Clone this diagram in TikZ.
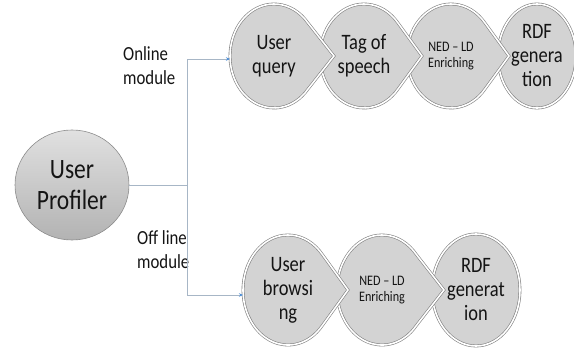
\documentclass[tikz,border=0pt]{standalone}
\usepackage{fontspec}
\setmainfont{Carlito}[FakeStretch=0.84]
\usetikzlibrary{arrows.meta,calc,shapes.geometric}
\definecolor{ballfill}{HTML}{D3D3D3}
\definecolor{balledge}{HTML}{7F7F7F}
\definecolor{connline}{HTML}{A7B6C6}
\definecolor{arrowblue}{HTML}{4F8FD6}
\definecolor{txt}{HTML}{141414}
\newcommand\chevball[4]{%
  \path[ball] (#1) ++(40:#2 and #3) arc[start angle=40,end angle=320,x radius=#2,y radius=#3] -- ($(#1)+(#4,0)$) -- cycle;}
\begin{document}
\begin{tikzpicture}[x=1pt,y=1pt,
  ball/.style={fill=ballfill,draw=balledge,double=white,double distance=1.6pt,line width=0.6pt},
  balltext/.style={inner sep=0pt,outer sep=0pt,align=center,text=txt,font=\fontsize{22}{24}\selectfont},
  smalltext/.style={font=\fontsize{14.5}{16}\selectfont},
  conn/.style={draw=connline,line width=0.8pt},
  tipa/.style={-{Stealth[length=4pt,width=3.5pt,color=arrowblue]}},
  lbl/.style={align=left,text=txt,font=\fontsize{20}{24.5}\selectfont,inner sep=0pt,anchor=north west}
]
\useasboundingbox (0,0) rectangle (574,-348);
% centres
\coordinate (c1) at (274,-56);
\coordinate (c2) at (364,-56);
\coordinate (c3) at (451,-56);
\coordinate (c4) at (537,-56);
\coordinate (d1) at (288,-290);
\coordinate (d2) at (382,-290);
\coordinate (d3) at (476,-290);
% top row shapes (right to left)
\path[ball] (c4) ellipse[x radius=39, y radius=52];
\chevball{c3}{44}{52}{58}
\chevball{c2}{44}{52}{58}
\chevball{c1}{44}{52}{60}
% bottom row shapes
\path[ball] (d3) ellipse[x radius=44, y radius=56];
\chevball{d2}{45}{55}{62}
\chevball{d1}{45}{55}{60}
% texts
\node[balltext,ellipse,minimum width=88pt,minimum height=104pt] (q1) at (c1) {User\\query};
\node[balltext] (q2) at (c2) {Tag of\\speech};
\node[balltext,smalltext] (q3) at (c3) {NED – LD\\Enriching};
\node[balltext] (q4) at (c4) {RDF\\genera\\tion};
\node[balltext,ellipse,minimum width=90pt,minimum height=110pt] (b1) at (d1) {User\\browsi\\ng};
\node[balltext,smalltext] (b2) at (d2) {NED – LD\\Enriching};
\node[balltext] (b3) at (d3) {RDF\\generat\\ion};
% user profiler
\node[ellipse,minimum width=114pt,minimum height=110pt,inner sep=0pt,outer sep=0pt,
  top color=black!12,bottom color=black!30,draw=black!45,line width=0.6pt,
  align=center,text=txt,font=\fontsize{28}{31}\selectfont] (up) at (72,-185) {User\\Profiler};
% labels
\node[lbl] (onl) at (123,-46) {Online\\module};
\node[lbl] (offl) at (137,-230) {Off line\\module};
% connectors
\coordinate (split) at (187,-185);
\draw[conn] (up.east) -- (split);
\draw[conn,tipa] (split) |- ([yshift=-3pt]q1.west);
\draw[conn,tipa] (split) |- ([yshift=-5pt]b1.west);
\end{tikzpicture}
\end{document}
